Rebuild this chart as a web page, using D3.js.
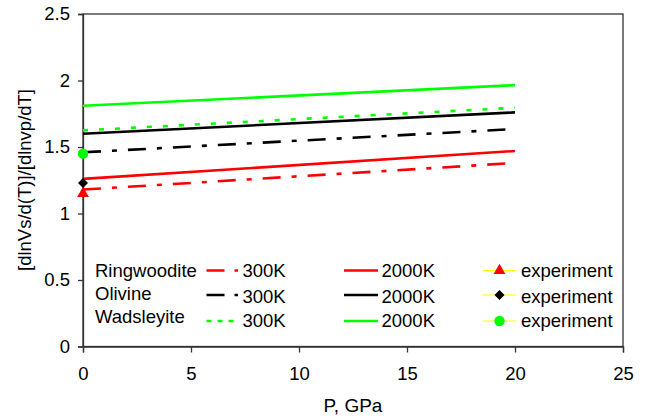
<!DOCTYPE html>
<html>
<head>
<meta charset="utf-8">
<script src="https://cdn.jsdelivr.net/npm/d3@7"></script>
<style>
body{margin:0;background:#fff;}
text{font-family:"Liberation Sans",Arial,sans-serif;fill:#000;}
</style>
</head>
<body>
<svg id="chart" width="648" height="420"></svg>
<script>
// ---- data ----
const pressure = [0, 20];
const ringwoodite300 = [1.18, 1.38];
const ringwoodite2000 = [1.26, 1.47];
const olivine300 = [1.46, 1.635];
const olivine2000 = [1.60, 1.76];
const wadsleyite300 = [1.625, 1.795];
const wadsleyite2000 = [1.81, 1.965];
const expPressure = [0];
const ringwooditeExp = [1.15];
const olivineExp = [1.23];
const wadsleyiteExp = [1.45];
const xTicks = [0, 5, 10, 15, 20, 25];
const yTicks = [0, 0.5, 1, 1.5, 2, 2.5];
const minerals = ["Ringwoodite", "Olivine", "Wadsleyite"];
const tempLabels = ["300K", "2000K"];
const expLabel = "experiment";

const FS = 18.5;
const svg = d3.select("#chart");
const m = {l:83, r:25, t:14, b:73.5};
const W = 648, H = 420;
const x = d3.scaleLinear().domain([0,25]).range([m.l, W-m.r]);
const y = d3.scaleLinear().domain([0,2.5]).range([H-m.b, m.t]);

// frame
svg.append("rect").attr("x", x(0)).attr("y", y(2.5)).attr("width", x(25)-x(0)).attr("height", y(0)-y(2.5))
  .attr("fill","none").attr("stroke","#333").attr("stroke-width",1.3);

const xa = svg.append("g").attr("transform",`translate(0,${y(0)})`)
  .call(d3.axisBottom(x).tickValues(xTicks).tickSize(6).tickPadding(14).tickFormat(d3.format("d")));
const ya = svg.append("g").attr("transform",`translate(${x(0)},0)`)
  .call(d3.axisLeft(y).tickValues(yTicks).tickSize(5).tickPadding(8).tickFormat(d => d3.format("")(d)));
[xa, ya].forEach(a => {
  a.selectAll("path").attr("stroke","#333").attr("stroke-width",1.3);
  a.selectAll("line").attr("stroke","#333").attr("stroke-width",1.3);
  a.selectAll("text").attr("font-size",FS).attr("fill","#000");
});

// series
const RED="#ff0000", BLK="#000000", GRN="#00ff00";
const DASHDOT="18,11,5,11", DOT="5,11";
const series = [
  {v: ringwoodite300, c: RED, d: DASHDOT},
  {v: ringwoodite2000, c: RED, d: null},
  {v: olivine300, c: BLK, d: DASHDOT},
  {v: olivine2000, c: BLK, d: null},
  {v: wadsleyite300, c: GRN, d: DOT},
  {v: wadsleyite2000, c: GRN, d: null},
];
const line = d3.line().x(d => x(d[0])).y(d => y(d[1]));
series.forEach(s => {
  svg.append("path").datum(pressure.map((p,i)=>[p, s.v[i]]))
    .attr("d", line).attr("fill","none").attr("stroke", s.c).attr("stroke-width",2.6)
    .attr("stroke-dasharray", s.d);
});

// markers
function marker(g, type, cx, cy, color){
  if(type==="tri"){
    g.append("path").attr("d", d3.symbol(d3.symbolTriangle, 60)()).attr("transform",`translate(${cx},${cy})`).attr("fill",color);
  } else if(type==="dia"){
    g.append("path").attr("d", `M0,-5L5,0L0,5L-5,0Z`).attr("transform",`translate(${cx},${cy})`).attr("fill",color);
  } else {
    g.append("circle").attr("cx",cx).attr("cy",cy).attr("r",5.2).attr("fill",color);
  }
}
const exps = [
  {v: ringwooditeExp, t:"tri", c: RED},
  {v: olivineExp, t:"dia", c: BLK},
  {v: wadsleyiteExp, t:"cir", c: GRN},
];
exps.forEach(e => expPressure.forEach((p,i) => marker(svg, e.t, x(p), y(e.v[i]), e.c)));

// legend
const lg = svg.append("g");
const rowLineY = [270.5, 295, 321];
const rowTextY = [277.3, 302.5, 327.3];
const minTextY = [276.7, 299.5, 322.7];
const cols = [{c:RED,d:DASHDOT},{c:BLK,d:DASHDOT},{c:GRN,d:DOT}];
const solids = [RED, BLK, GRN];
minerals.forEach((name,i) => {
  lg.append("text").attr("x",95).attr("y",minTextY[i]).attr("font-size",FS).text(name);
  lg.append("line").attr("x1",206.5).attr("x2",238).attr("y1",rowLineY[i]).attr("y2",rowLineY[i])
    .attr("stroke",cols[i].c).attr("stroke-width",2.6).attr("stroke-dasharray", i===2 ? "5,6" : "18,10,4,10");
  lg.append("text").attr("x",242.5).attr("y",rowTextY[i]).attr("font-size",FS).text(tempLabels[0]);
  lg.append("line").attr("x1",344).attr("x2",378).attr("y1",rowLineY[i]).attr("y2",rowLineY[i])
    .attr("stroke",solids[i]).attr("stroke-width",2.6);
  lg.append("text").attr("x",381.5).attr("y",rowTextY[i]).attr("font-size",FS).text(tempLabels[1]);
  lg.append("line").attr("x1",483).attr("x2",516).attr("y1",rowLineY[i]).attr("y2",rowLineY[i])
    .attr("stroke","#ffff00").attr("stroke-width",1.2);
  marker(lg, exps[i].t, 499.5, rowLineY[i], exps[i].c);
  lg.append("text").attr("x",521).attr("y",rowTextY[i]).attr("font-size",FS).text(expLabel);
});

// axis titles
svg.append("text").attr("x",353).attr("y",411.5).attr("text-anchor","middle").attr("font-size",19).text("P, GPa");
svg.append("text").attr("transform",`translate(31,180) rotate(-90)`).attr("text-anchor","middle")
  .attr("font-size",FS).text("[dlnVs/d(T)]/[dlnvp/dT]");
</script>
</body>
</html>
